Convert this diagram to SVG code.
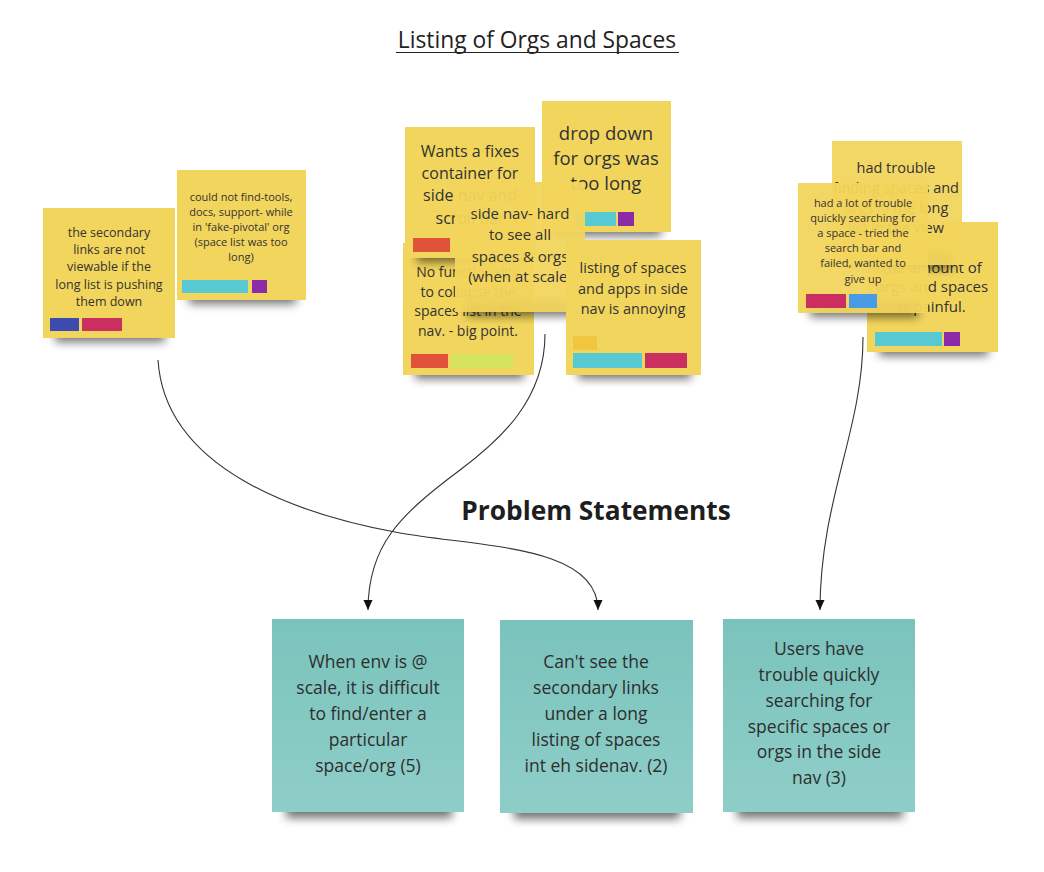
<svg xmlns="http://www.w3.org/2000/svg" width="1044" height="872" viewBox="0 0 1044 872">
<style>
.t{font-family:"Open Sans","Liberation Sans",sans-serif;fill:#333;text-anchor:middle}
.y{fill:#F2D55C}
.yt{fill:#F2D55C;fill-opacity:0.95}
.tl{fill:url(#tg)}
.sh{fill:#000;opacity:0.55;filter:url(#blur)}
.c{fill:none;stroke:#333;stroke-width:1.1}
</style>
<defs>
<filter id="blur" x="-30%" y="-100%" width="160%" height="300%"><feGaussianBlur stdDeviation="5"/></filter>
<linearGradient id="tg" x1="0" y1="0" x2="0" y2="1"><stop offset="0" stop-color="#7AC3BC"/><stop offset="1" stop-color="#8FCEC8"/></linearGradient>
<marker id="ah" viewBox="0 0 10 10" refX="10" refY="5" markerWidth="10" markerHeight="10" markerUnits="userSpaceOnUse" orient="auto"><path d="M0,0.5 L10,5 L0,9.5 z" fill="#111"/></marker>
</defs>
<rect width="1044" height="872" fill="#fff"/>

<g id="title">
<text class="t" x="537" y="48" font-size="22.8" style="fill:#222">Listing of Orgs and Spaces</text>
<line x1="396" y1="52.5" x2="679" y2="52.5" stroke="#222" stroke-width="1.2"/>
</g>
<g id="heading"><text class="t" x="596" y="520" font-size="26.3" font-weight="bold" style="fill:#1e1e1e">Problem Statements</text></g>

<g id="connectors">
<path class="c" d="M158,360 C165,470 300,515 400,533 C480,547 598,545 598,610" marker-end="url(#ah)"/>
<path class="c" d="M545,334 C545,400 500,440 460,470 C400,515 368,545 368,610" marker-end="url(#ah)"/>
<path class="c" d="M863,337 C863,430 820,500 820,610" marker-end="url(#ah)"/>
</g>

<g id="note1">
<rect class="sh" x="55" y="326" width="110" height="16"/>
<rect class="y" x="43" y="208" width="132" height="130"/>
<g class="t" font-size="12.5">
<text x="109" y="237">the secondary</text>
<text x="109" y="254">links are not</text>
<text x="109" y="271">viewable if the</text>
<text x="109" y="289">long list is pushing</text>
<text x="109" y="306">them down</text>
</g>
<rect x="50" y="318" width="29" height="13" fill="#3D4BAF"/>
<rect x="82" y="318" width="40" height="13" fill="#CA2F60"/>
</g>

<g id="note2">
<rect class="sh" x="189" y="288" width="107" height="16"/>
<rect class="y" x="177" y="170" width="129" height="130"/>
<g class="t" font-size="11">
<text x="241" y="201">could not find-tools,</text>
<text x="241" y="216">docs, support- while</text>
<text x="241" y="231">in 'fake-pivotal' org</text>
<text x="241" y="246">(space list was too</text>
<text x="241" y="261">long)</text>
</g>
<rect x="182" y="280" width="66" height="13" fill="#57C9D3"/>
<rect x="252" y="280" width="15" height="13" fill="#8C2BA8"/>
</g>

<g id="note5">
<rect class="sh" x="415" y="363" width="109" height="16"/>
<rect class="y" x="403" y="243" width="131" height="132"/>
<g class="t" font-size="14">
<text x="468" y="277">No functionality</text>
<text x="468" y="296.5">to collapse the</text>
<text x="468" y="316">spaces list in the</text>
<text x="468" y="335.5">nav.  - big point.</text>
</g>
<rect x="411" y="354" width="37" height="14" fill="#E0523A"/>
<rect x="451" y="354" width="62" height="14" fill="#D4E25C"/>
</g>

<g id="note3">
<rect class="sh" x="417" y="246" width="108" height="16"/>
<rect class="y" x="405" y="127" width="130" height="131"/>
<g class="t" font-size="16">
<text x="470" y="157">Wants a fixes</text>
<text x="470" y="179">container for</text>
<text x="470" y="201">side nav and</text>
<text x="470" y="224">scroll bar</text>
</g>
<rect x="413" y="238" width="37" height="14" fill="#E0523A"/>
</g>

<g id="note4">
<rect class="sh" x="554" y="220" width="107" height="16"/>
<rect class="y" x="542" y="101" width="129" height="131"/>
<g class="t" font-size="18.5">
<text x="606" y="140">drop down</text>
<text x="606" y="165">for orgs was</text>
<text x="606" y="190">too long</text>
</g>
<rect x="576" y="212" width="40" height="14" fill="#57C9D3"/>
<rect x="618" y="212" width="16" height="14" fill="#8C2BA8"/>
</g>

<g id="note6">
<rect class="sh" x="467" y="300" width="108" height="16"/>
<rect class="yt" x="455" y="182" width="130" height="130"/>
<g class="t" font-size="15">
<text x="520" y="219">side nav- hard</text>
<text x="520" y="240">to see all</text>
<text x="520" y="262">spaces &amp; orgs</text>
<text x="520" y="282">(when at scale)</text>
</g>
</g>

<g id="note7">
<rect class="sh" x="578" y="363" width="113" height="16"/>
<rect class="y" x="566" y="240" width="135" height="135"/>
<g class="t" font-size="14.5">
<text x="633" y="273">listing of spaces</text>
<text x="633" y="294">and apps in side</text>
<text x="633" y="314">nav is annoying</text>
</g>
<rect x="573" y="336" width="24" height="14" fill="#F0C540"/>
<rect x="573" y="353" width="69" height="15" fill="#57C9D3"/>
<rect x="645" y="353" width="42" height="15" fill="#CA2F60"/>
</g>

<g id="note9">
<rect class="sh" x="879" y="340" width="109" height="16"/>
<rect class="y" x="867" y="222" width="131" height="130"/>
<g class="t" font-size="15">
<text x="932" y="273">the amount of</text>
<text x="932" y="292">orgs and spaces</text>
<text x="932" y="312">is painful.</text>
</g>
<rect x="875" y="332" width="67" height="14" fill="#57C9D3"/>
<rect x="944" y="332" width="16" height="14" fill="#8C2BA8"/>
</g>

<g id="note8">
<rect class="sh" x="844" y="252" width="108" height="16"/>
<rect class="yt" x="832" y="141" width="130" height="124"/>
<g class="t" font-size="14.5">
<text x="896" y="173">had trouble</text>
<text x="896" y="193">finding spaces and</text>
<text x="896" y="213">orgs in the long</text>
<text x="896" y="233">list in the view</text>
</g>
</g>

<g id="note10">
<rect class="sh" x="810" y="301" width="108" height="16"/>
<rect class="yt" x="798" y="183" width="130" height="130"/>
<g class="t" font-size="11">
<text x="863" y="207">had a lot of trouble</text>
<text x="863" y="222">quickly searching for</text>
<text x="863" y="237">a space - tried the</text>
<text x="863" y="252">search bar and</text>
<text x="863" y="267">failed, wanted to</text>
<text x="863" y="283">give up</text>
</g>
<rect x="806" y="294" width="40" height="14" fill="#CA2F60"/>
<rect x="849" y="294" width="28" height="14" fill="#4A9BE6"/>
</g>

<g id="problem1">
<rect class="sh" x="286" y="800" width="166" height="18"/>
<rect class="tl" x="272" y="619" width="192" height="193"/>
<g class="t" font-size="17.5" style="fill:#2e2e2e">
<text x="368" y="668">When env is @</text>
<text x="368" y="694">scale, it is difficult</text>
<text x="368" y="720">to find/enter a</text>
<text x="368" y="746">particular</text>
<text x="368" y="772">space/org (5)</text>
</g>
</g>

<g id="problem2">
<rect class="sh" x="514" y="801" width="166" height="18"/>
<rect class="tl" x="500" y="620" width="193" height="193"/>
<g class="t" font-size="17.5" style="fill:#2e2e2e">
<text x="596" y="668">Can't see the</text>
<text x="596" y="694">secondary links</text>
<text x="596" y="720">under a long</text>
<text x="596" y="746">listing of spaces</text>
<text x="596" y="772">int eh sidenav. (2)</text>
</g>
</g>

<g id="problem3">
<rect class="sh" x="737" y="800" width="166" height="18"/>
<rect class="tl" x="723" y="619" width="192" height="193"/>
<g class="t" font-size="17.5" style="fill:#2e2e2e">
<text x="819" y="655">Users have</text>
<text x="819" y="681">trouble quickly</text>
<text x="819" y="707">searching for</text>
<text x="819" y="733">specific spaces or</text>
<text x="819" y="758">orgs in the side</text>
<text x="819" y="784">nav (3)</text>
</g>
</g>
</svg>
